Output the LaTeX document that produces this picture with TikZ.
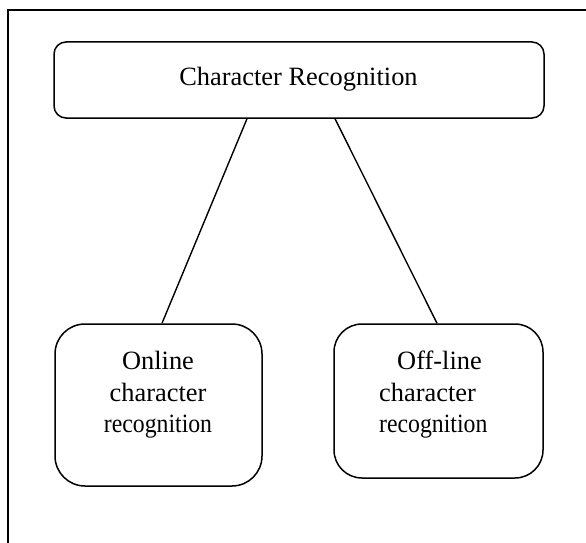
\documentclass[tikz,border=0pt]{standalone}
\usepackage{fontspec}
\setmainfont{Liberation Serif}
\begin{document}
\begin{tikzpicture}[x=1pt,y=-1pt,
  box/.style={draw, line width=1.5pt, rounded corners=#1, inner sep=0pt},
  lbl/.style={font=\fontsize{26.4}{31}\selectfont, inner sep=0pt, anchor=base},
  lblw/.style={lbl, anchor=base west},
  conn/.style={line width=1.4pt},
  frame/.style={line width=1.8pt}]
\useasboundingbox (0,0) rectangle (586,543);
\draw[frame] (586,10) -- (8,10) -- (8,543);
% boxes
\node[box=12pt, minimum width=490pt, minimum height=76pt] (top) at (299,80) {};
\node[box=30pt, minimum width=207pt, minimum height=162pt] (online) at (158.5,405) {};
\node[box=28pt, minimum width=209pt, minimum height=154pt] (offline) at (438.5,401) {};
% texts
\node[lbl] (toptxt) at (298.5,85) {Character Recognition};
\node[lbl] (on1) at (158,369) {Online};
\node[lbl] (on2) at (158,401) {character};
\node[lbl] (on3) at (158,432) {\scalebox{0.9}[1]{recognition}};
\node[lblw] (off1) at (397,369) {Off-line};
\node[lblw] (off2) at (379,401) {character};
\node[lblw] (off3) at (379,432) {\scalebox{0.9}[1]{recognition}};
% connectors
\draw[conn] ([xshift=-52pt]top.south) -- ([xshift=3.5pt]online.north);
\draw[conn] ([xshift=36pt]top.south) -- ([xshift=-1.5pt]offline.north);
\end{tikzpicture}
\end{document}
